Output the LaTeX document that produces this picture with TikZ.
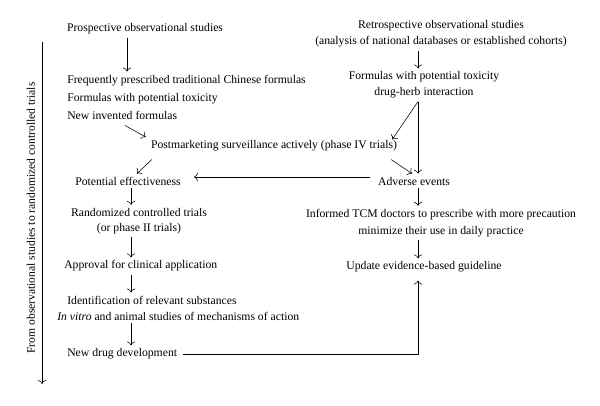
\documentclass[tikz,border=0pt]{standalone}
\usepackage{fontspec}
\setmainfont{Liberation Serif}
\usetikzlibrary{arrows.meta}
\begin{document}
  \begin{tikzpicture}[x=1pt, y=-1pt, >={To[scale=1.4]}, line width=0.55pt,
      txt/.style={inner sep=3pt, align=center, font=\fontsize{11.7}{16}\selectfont},
      lst/.style={inner sep=3pt, align=left, anchor=west, font=\fontsize{11.7}{18}\selectfont}]
    \useasboundingbox (0,0) rectangle (600,405);

    \coordinate (lx) at (127,0);
    \coordinate (mx) at (131,0);
    \coordinate (rx) at (418,0);
    \coordinate (top) at (42,42);
    \coordinate (bot) at (42,384);

    \node[txt] (pros) at (145,29) {Prospective observational studies};
    \node[lst] (formA) at (64,97) {Frequently prescribed traditional Chinese formulas\\Formulas with potential toxicity\\New invented formulas};
    \node[txt] (post) at (274,146) {Postmarketing surveillance actively (phase IV trials)};
    \node[txt] (potent) at (128,181) {Potential effectiveness};
    \node[txt, font=\fontsize{11.7}{15}\selectfont] (rct) at (139,221) {Randomized controlled trials\\(or phase II trials)};
    \node[lst] (appr) at (61,266) {Approval for clinical application};
    \node[lst] (identA) at (64,300) {Identification of relevant substances};
    \node[lst] (identB) at (54,316) {\textit{In vitro} and animal studies of mechanisms of action};
    \node[lst] (drug) at (64,354) {New drug development};

    \node[txt] (retro) at (441,34) {Retrospective observational studies\\(analysis of national databases or established cohorts)};
    \node[txt] (formB) at (424,85) {Formulas with potential toxicity\\drug-herb interaction};
    \node[txt] (adverse) at (414,181) {Adverse events};
    \node[txt, font=\fontsize{11.7}{17}\selectfont] (inform) at (441,223) {Informed TCM doctors to prescribe with more precaution\\minimize their use in daily practice};
    \node[txt] (update) at (424,267) {Update evidence-based guideline};

    \node[txt, rotate=90, font=\fontsize{11.6}{15}\selectfont] (axis) at (31,218) {From observational studies to randomized controlled trials};
    \draw[->] (top) -- (bot);

    \draw[->] (pros.south -| lx) -- (formA.north -| lx);
    \draw[->] ([xshift=61pt,yshift=-3pt]formA.south west) -- ([xshift=-2pt,yshift=9pt]post.west);
    \draw[->] ([xshift=4pt,yshift=-5pt]post.south west) -- ([xshift=9pt]potent.north);
    \draw[->] (potent.south -| mx) -- (rct.north -| mx);
    \draw[->] (rct.south -| mx) -- (appr.north -| mx);
    \draw[->] (appr.south -| mx) -- (identA.north -| mx);
    \draw[->] (identB.south -| mx) -- (drug.north -| mx);
    \draw[->, shorten >=5pt] ([xshift=3pt]drug.east) -| (update.south -| rx);

    \draw[->] (retro.south -| rx) -- (formB.north -| rx);
    \draw[->] (formB.south -| rx) -- ([xshift=-8pt,yshift=-2pt]post.north east);
    \draw[->] (formB.south -| rx) -- (adverse.north -| rx);
    \draw[->] ([xshift=-9pt,yshift=-5pt]post.south east) -- ([xshift=-2pt]adverse.north);
    \draw[->] ([xshift=-5pt,yshift=4pt]adverse.west) -- ([xshift=10pt,yshift=4pt]potent.east);
    \draw[->] (adverse.south -| rx) -- (inform.north -| rx);
    \draw[->] (inform.south -| rx) -- (update.north -| rx);
  \end{tikzpicture}
\end{document}
